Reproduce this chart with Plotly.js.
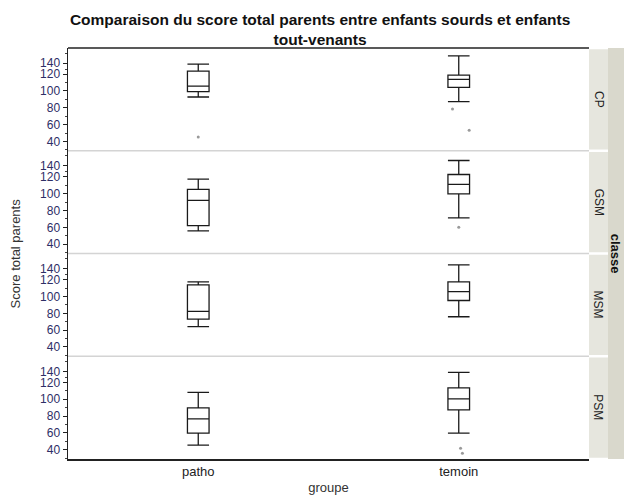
<!DOCTYPE html>
<html>
<head>
<meta charset="utf-8">
<script src="https://cdn.plot.ly/plotly-3.0.1.min.js"></script>
<style>html,body{margin:0;padding:0;background:#fff;}#chart{width:624px;height:495px;}</style>
</head>
<body>
<div id="chart"></div>
<script>
// ---- data ----
const groups = ["patho", "temoin"];
const classes = ["CP", "GSM", "MSM", "PSM"];
// rows = classes, columns = groups
const upperWhisker = [[131.8, 141.6], [117.3, 139.4], [117.3, 137.4], [108.2, 131.8]];
const q3Values     = [[123.5, 118.8], [105.1, 122.8], [113.7, 117.3], [89.7, 113.4]];
const medianValues = [[105.8, 113.7], [92.1, 111.0], [82.2, 105.8], [76.7, 100.4]];
const q1Values     = [[99.1, 104.3], [62.1, 99.9], [73.1, 95.2], [59.7, 87.4]];
const lowerWhisker = [[92.8, 87.3], [55.8, 71.2], [64.1, 75.9], [45.5, 59.7]];
const outlierClass  = ["CP", "CP", "CP", "GSM", "PSM", "PSM"];
const outlierGroup  = ["patho", "temoin", "temoin", "temoin", "temoin", "temoin"];
const outlierValue  = [45.2, 78.6, 53.4, 60.2, 41.7, 35.8];
const outlierJitter = [0, -0.024, 0.04, 0, 0.007, 0.014];
const yTickVals  = [40, 60, 80, 100, 120, 133];
const yTickText  = ["40", "60", "80", "100", "120", "140"];
const yMinorVals = [30, 50, 70, 90, 110, 126, 145];

// ---- build ----
const nP = classes.length;
const traces = [];
const layout = {
  width: 624, height: 495,
  margin: {l: 68, r: 35, t: 48, b: 36, pad: 0},
  paper_bgcolor: "#ffffff", plot_bgcolor: "#ffffff",
  showlegend: false,
  boxmode: "overlay",
  font: {family: "Liberation Sans, Arial, sans-serif", size: 12, color: "#222"},
  title: {
    text: "<b>Comparaison du score total parents entre enfants sourds et enfants<br>tout-venants</b>",
    font: {family: "Liberation Sans, Arial, sans-serif", size: 15.5, color: "#111"},
    xref: "container", x: 0.513, xanchor: "center",
    yref: "container", y: 0.95, yanchor: "top"
  },
  xaxis: {
    range: [-0.5, 1.5], tickmode: "array", tickvals: groups.map((g, i) => i), ticktext: groups,
    showgrid: false, zeroline: false, showline: true, linecolor: "#222", linewidth: 1.5,
    ticks: "", tickfont: {size: 13, color: "#222"},
    anchor: "y" + nP,
    title: {text: "groupe", font: {size: 13, color: "#333"}, standoff: 6}
  },
  shapes: [], annotations: []
};

classes.forEach((cls, p) => {
  const yName = p === 0 ? "y" : "y" + (p + 1);
  const axName = p === 0 ? "yaxis" : "yaxis" + (p + 1);
  const d1 = 1 - p / nP, d0 = 1 - (p + 1) / nP;
  layout[axName] = {
    domain: [d0, d1], range: [29, 151], anchor: "x",
    tickmode: "array", tickvals: yTickVals, ticktext: yTickText,
    ticks: "outside", ticklen: 4, tickcolor: "#222", tickwidth: 1,
    minor: {tickmode: "array", tickvals: yMinorVals, ticks: "outside", ticklen: 2, tickcolor: "#444"},
    showgrid: false, zeroline: false, showline: true, linecolor: "#222", linewidth: 1.5,
    tickfont: {size: 12, color: "#2e2e66"}
  };
  groups.forEach((g, gi) => {
    traces.push({
      type: "box", xaxis: "x", yaxis: yName,
      x: [gi], q1: [q1Values[p][gi]], median: [medianValues[p][gi]], q3: [q3Values[p][gi]],
      lowerfence: [lowerWhisker[p][gi]], upperfence: [upperWhisker[p][gi]],
      width: 0.083, whiskerwidth: 1, boxpoints: false,
      line: {color: "#1a1a1a", width: 1.3}, fillcolor: "rgba(255,255,255,0)",
      hoverinfo: "skip"
    });
  });
  const ox = [], oy = [];
  outlierValue.forEach((v, i) => {
    if (outlierClass[i] === cls) {
      ox.push(groups.indexOf(outlierGroup[i]) + outlierJitter[i]);
      oy.push(v);
    }
  });
  if (ox.length) {
    traces.push({type: "scatter", mode: "markers", xaxis: "x", yaxis: yName, x: ox, y: oy,
      marker: {size: 3, color: "#9a9a9a"}, hoverinfo: "skip"});
  }
  // panel separator
  if (p > 0) {
    layout.shapes.push({type: "line", xref: "paper", yref: "paper", x0: 0, x1: 1, y0: d1, y1: d1,
      line: {color: "#d4d4d4", width: 1.3}});
  }
  // strip
  layout.shapes.push({type: "rect", xref: "paper", yref: "paper", x0: 1.0, x1: 1.0365,
    y0: d0 + 0.003, y1: d1 - 0.003, fillcolor: "#e6e6de", line: {width: 0}, layer: "below"});
  layout.annotations.push({xref: "paper", yref: "paper", x: 1.018, y: (d0 + d1) / 2,
    text: cls, showarrow: false, textangle: 90, xanchor: "center", yanchor: "middle",
    font: {size: 12, color: "#222"}});
});

// top border
layout.shapes.push({type: "line", xref: "paper", yref: "paper", x0: 0, x1: 1, y0: 1, y1: 1,
  line: {color: "#222", width: 1.5}});
// outer strip
layout.shapes.push({type: "rect", xref: "paper", yref: "paper", x0: 1.0365, x1: 1.08,
  y0: 0, y1: 1, fillcolor: "#d9d8cc", line: {width: 0}, layer: "below"});
layout.annotations.push({xref: "paper", yref: "paper", x: 1.0515, y: 0.5, text: "<b>classe</b>",
  showarrow: false, textangle: 90, xanchor: "center", yanchor: "middle",
  font: {size: 13, color: "#111"}});
// y title
layout.annotations.push({xref: "paper", yref: "paper", x: -0.1, y: 0.5, xshift: 0,
  text: "Score total parents", showarrow: false, textangle: -90, xanchor: "center", yanchor: "middle",
  font: {size: 13, color: "#333"}});

Plotly.newPlot("chart", traces, layout, {displayModeBar: false, staticPlot: true});
</script>
</body>
</html>
